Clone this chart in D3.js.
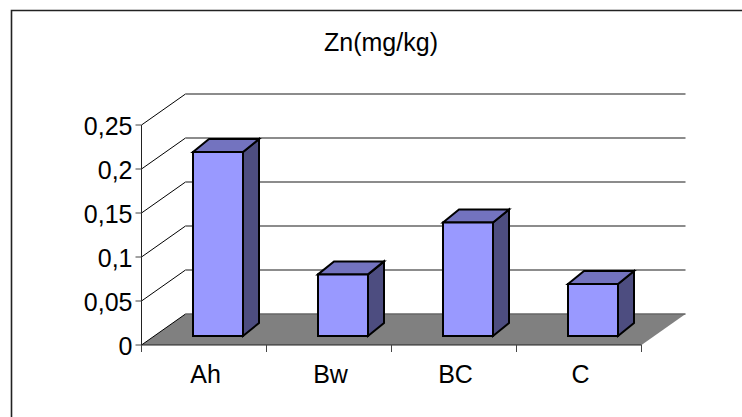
<!DOCTYPE html>
<html><head><meta charset="utf-8">
<script src="https://cdn.jsdelivr.net/npm/d3@7"></script>
<style>html,body{margin:0;padding:0;background:#fff}svg{display:block}text{font-family:"Liberation Sans",Arial,sans-serif;fill:#000}</style>
</head><body><svg id="c" width="742" height="417"></svg>
<script>
const categories = ["Ah","Bw","BC","C"];
const values = [0.209,0.07,0.129,0.059];
const yTicks = [0,0.05,0.1,0.15,0.2,0.25];
const yTickLabels = ["0","0,05","0,1","0,15","0,2","0,25"];
const title = "Zn(mg/kg)";

const svg = d3.select("#c");
const depthX = 44, depthY = -31;
const y = d3.scaleLinear().domain([0,0.25]).range([345,125]);
const x = d3.scaleBand().domain(categories).range([141.5,641.5]);
const line = d3.line();

svg.append("path").attr("fill","none").attr("stroke","#222").attr("stroke-width",1.6)
  .attr("d",line([[11.5,417],[11.5,10.5],[742,10.5]]));

svg.append("path").attr("fill","#808080").attr("stroke","none")
  .attr("d",line([[x.range()[0],y(0)],[x.range()[0]+depthX,y(0)+depthY],[x.range()[1]+depthX,y(0)+depthY],[x.range()[1],y(0)]])+"Z");

const grid = svg.append("g").attr("fill","none");
yTicks.forEach(t=>{
  const yy = y(t);
  grid.append("path").attr("stroke","#000").attr("d",line([[x.range()[0],yy],[x.range()[0]+depthX,yy+depthY]]));
  grid.append("path").attr("stroke","#666").attr("stroke-width",1.5).attr("d",line([[x.range()[0]+depthX,yy+depthY],[x.range()[1]+depthX,yy+depthY]]));
});

const ax = svg.append("g").attr("stroke","#444").attr("fill","none");
ax.append("path").attr("d",line([[x.range()[0],y(0.25)],[x.range()[0],y(0)],[x.range()[1],y(0)]])).attr("stroke","#222");
yTicks.forEach(t=>ax.append("path").attr("d",line([[x.range()[0]-6,y(t)],[x.range()[0],y(t)]])));
const xEdges = categories.map(c=>x(c)).concat([x.range()[1]]);
xEdges.forEach(e=>ax.append("path").attr("d",line([[e,y(0)],[e,y(0)+7]])));

svg.append("g").attr("font-size",25).attr("text-anchor","end").selectAll("text").data(yTicks).join("text")
  .attr("x",132.5).attr("y",d=>y(d)+9.5).text((d,i)=>yTickLabels[i]);
svg.append("g").attr("font-size",25).attr("text-anchor","middle").selectAll("text").data(categories).join("text")
  .attr("x",d=>x(d)+x.bandwidth()/2+1.5).attr("y",383).text(d=>d);
svg.append("text").attr("x",381).attr("y",50.5).attr("font-size",25).attr("text-anchor","middle").text(title);

const barW = 50, dx = 16, dy = -13, offX = 51.5, offY = -9;
const bars = svg.append("g").attr("stroke","#000").attr("stroke-width",2).attr("stroke-linejoin","miter");
categories.forEach((c,i)=>{
  const l = x(c)+offX, r = l+barW, b = y(0)+offY, t = y(values[i])+offY;
  bars.append("path").attr("fill","#4d4d80").attr("d",line([[r,b],[r+dx,b+dy],[r+dx,t+dy],[r,t]])+"Z");
  bars.append("path").attr("fill","#7373bf").attr("d",line([[l,t],[l+dx,t+dy],[r+dx,t+dy],[r,t]])+"Z");
  bars.append("path").attr("fill","#9999ff").attr("d",line([[l,b],[l,t],[r,t],[r,b]])+"Z");
});
</script></body></html>
